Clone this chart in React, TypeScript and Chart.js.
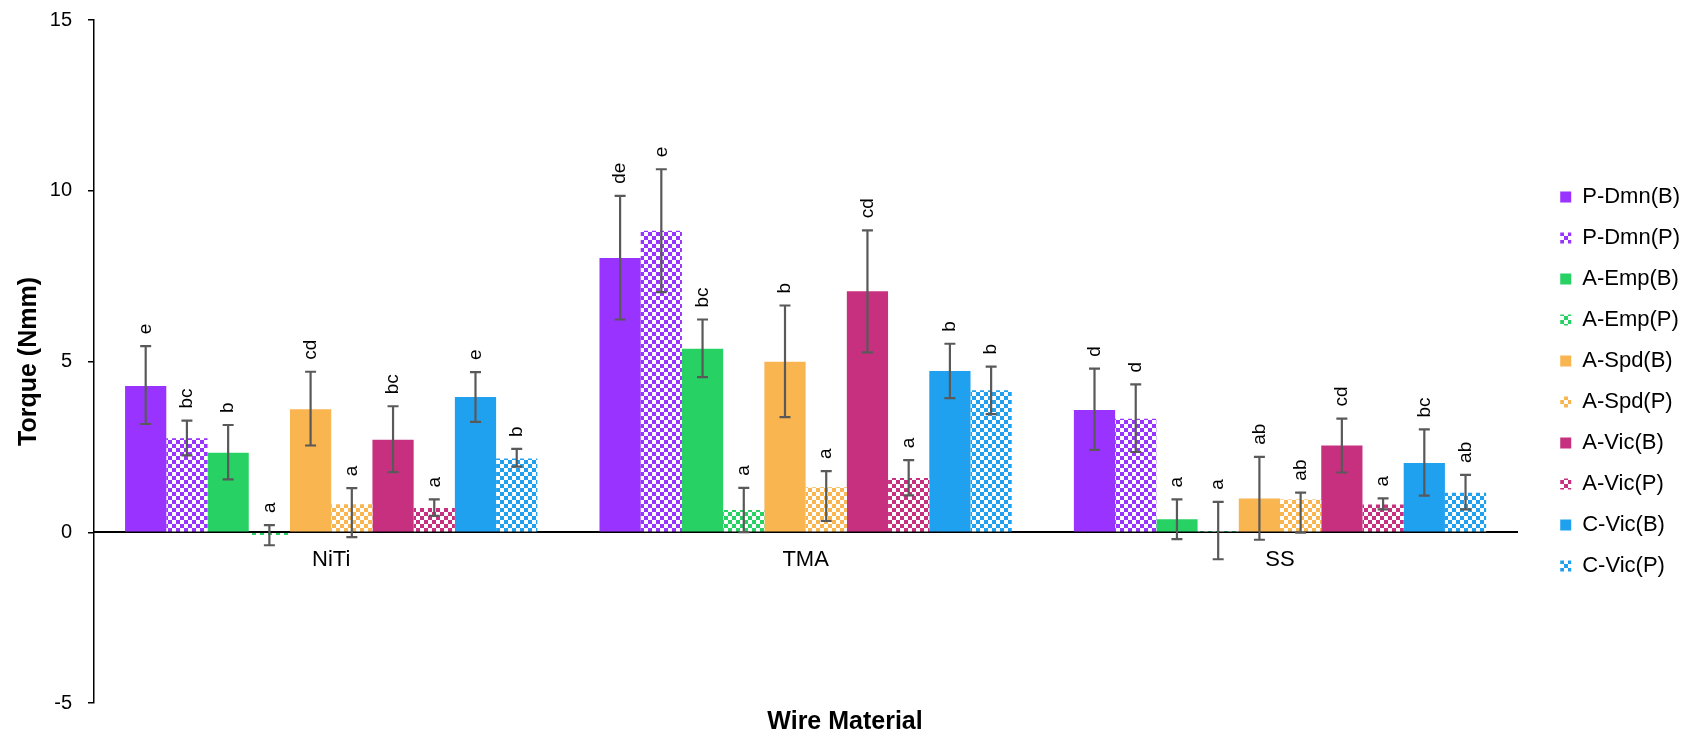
import React, { useEffect, useRef } from "react";
import { Chart, registerables } from "chart.js";

Chart.register(...registerables);

const FONT = "'Liberation Sans', Arial, Helvetica, sans-serif";
Chart.defaults.font.family = FONT;

// Wire materials on the category axis
const categories = ["NiTi", "TMA", "SS"];

// Series names (B = bracket, P = passive)
const seriesNames = [
  "P-Dmn(B)",
  "P-Dmn(P)",
  "A-Emp(B)",
  "A-Emp(P)",
  "A-Spd(B)",
  "A-Spd(P)",
  "A-Vic(B)",
  "A-Vic(P)",
  "C-Vic(B)",
  "C-Vic(P)",
];

// Mean torque (Nmm) per wire material: NiTi, TMA, SS
const pDmnB = [4.28, 8.03, 3.58];
const pDmnP = [2.75, 8.83, 3.32];
const aEmpB = [2.33, 5.37, 0.38];
const aEmpP = [-0.08, 0.65, 0.04];
const aSpdB = [3.6, 4.99, 0.99];
const aSpdP = [0.82, 1.32, 0.96];
const aVicB = [2.71, 7.06, 2.54];
const aVicP = [0.71, 1.59, 0.81];
const cVicB = [3.96, 4.72, 2.03];
const cVicP = [2.16, 4.16, 1.16];

// Lower whisker ends
const pDmnBLow = [3.17, 6.23, 2.41];
const pDmnPLow = [2.25, 7.03, 2.35];
const aEmpBLow = [1.55, 4.54, -0.2];
const aEmpPLow = [-0.38, 0.0, -0.79];
const aSpdBLow = [2.54, 3.37, -0.22];
const aSpdPLow = [-0.14, 0.33, -0.01];
const aVicBLow = [1.76, 5.27, 1.75];
const aVicPLow = [0.48, 1.08, 0.67];
const cVicBLow = [3.23, 3.93, 1.07];
const cVicPLow = [1.92, 3.46, 0.67];

// Upper whisker ends
const pDmnBHigh = [5.45, 9.85, 4.79];
const pDmnPHigh = [3.27, 10.63, 4.33];
const aEmpBHigh = [3.14, 6.23, 0.96];
const aEmpPHigh = [0.21, 1.3, 0.89];
const aSpdBHigh = [4.7, 6.64, 2.21];
const aSpdPHigh = [1.29, 1.79, 1.16];
const aVicBHigh = [3.69, 8.84, 3.33];
const aVicPHigh = [0.96, 2.11, 0.99];
const cVicBHigh = [4.69, 5.52, 3.01];
const cVicPHigh = [2.44, 4.85, 1.68];

// Significance letters
const pDmnBSig = ["e", "de", "d"];
const pDmnPSig = ["bc", "e", "d"];
const aEmpBSig = ["b", "bc", "a"];
const aEmpPSig = ["a", "a", "a"];
const aSpdBSig = ["cd", "b", "ab"];
const aSpdPSig = ["a", "a", "ab"];
const aVicBSig = ["bc", "cd", "cd"];
const aVicPSig = ["a", "a", "a"];
const cVicBSig = ["e", "b", "bc"];
const cVicPSig = ["b", "b", "ab"];

// Y axis range
const yMin = -5;
const yMax = 15;
const yStep = 5;

const means = [pDmnB, pDmnP, aEmpB, aEmpP, aSpdB, aSpdP, aVicB, aVicP, cVicB, cVicP];
const lows = [pDmnBLow, pDmnPLow, aEmpBLow, aEmpPLow, aSpdBLow, aSpdPLow, aVicBLow, aVicPLow, cVicBLow, cVicPLow];
const highs = [pDmnBHigh, pDmnPHigh, aEmpBHigh, aEmpPHigh, aSpdBHigh, aSpdPHigh, aVicBHigh, aVicPHigh, cVicBHigh, cVicPHigh];
const letters = [pDmnBSig, pDmnPSig, aEmpBSig, aEmpPSig, aSpdBSig, aSpdPSig, aVicBSig, aVicPSig, cVicBSig, cVicPSig];

// Brand colours, one per appliance (each used for a solid and a checkered series)
const brandColors = ["#9933FF", "#27D163", "#F9B550", "#C7307F", "#1FA1F0"];

function checker(color: string): CanvasPattern | string {
  const tile = document.createElement("canvas");
  tile.width = 8;
  tile.height = 8;
  const c = tile.getContext("2d");
  if (!c) return color;
  c.fillStyle = "#ffffff";
  c.fillRect(0, 0, 8, 8);
  c.fillStyle = color;
  c.fillRect(0, 0, 4, 4);
  c.fillRect(4, 4, 4, 4);
  const p = c.createPattern(tile, "repeat");
  return p || color;
}

// Draws whiskers and the rotated significance letters above them
const whiskerPlugin = {
  id: "whiskersAndLetters",
  afterDatasetsDraw(chart: any) {
    const { ctx } = chart;
    const yScale = chart.scales.y;
    chart.data.datasets.forEach((ds: any, di: number) => {
      const meta = chart.getDatasetMeta(di);
      if (meta.hidden) return;
      meta.data.forEach((bar: any, i: number) => {
        const x = bar.x;
        const yLo = yScale.getPixelForValue(ds.whiskerLow[i]);
        const yHi = yScale.getPixelForValue(ds.whiskerHigh[i]);
        const cap = 5.5;
        ctx.save();
        ctx.strokeStyle = "#595959";
        ctx.lineWidth = 2.2;
        ctx.beginPath();
        ctx.moveTo(x, yLo);
        ctx.lineTo(x, yHi);
        ctx.moveTo(x - cap, yLo);
        ctx.lineTo(x + cap, yLo);
        ctx.moveTo(x - cap, yHi);
        ctx.lineTo(x + cap, yHi);
        ctx.stroke();
        ctx.translate(x, yHi - 12);
        ctx.rotate(-Math.PI / 2);
        ctx.font = `19px ${FONT}`;
        ctx.fillStyle = "#000000";
        ctx.textAlign = "left";
        ctx.textBaseline = "middle";
        ctx.fillText(ds.sig[i], 0, 0);
        ctx.restore();
      });
    });
  },
};

export default function App() {
  const canvasRef = useRef<HTMLCanvasElement | null>(null);

  useEffect(() => {
    const canvas = canvasRef.current;
    if (!canvas) return;

    const datasets = seriesNames.map((name, i) => {
      const color = brandColors[Math.floor(i / 2)];
      const fill = i % 2 === 0 ? color : checker(color);
      return {
        label: name,
        data: means[i],
        backgroundColor: fill,
        borderWidth: 0,
        whiskerLow: lows[i],
        whiskerHigh: highs[i],
        sig: letters[i],
      } as any;
    });

    const chart = new Chart(canvas, {
      type: "bar",
      data: { labels: categories, datasets },
      plugins: [whiskerPlugin],
      options: {
        animation: false,
        responsive: true,
        maintainAspectRatio: false,
        layout: { padding: { top: 20, left: 0, right: 0, bottom: 0 } },
        datasets: {
          bar: { categoryPercentage: 0.869, barPercentage: 1 },
        },
        plugins: {
          tooltip: { enabled: false },
          legend: {
            position: "right",
            title: { display: true, text: "", padding: 0, font: { size: 5 } },
            labels: {
              boxWidth: 11,
              boxHeight: 11,
              padding: 19,
              color: "#000000",
              font: { size: 22, family: FONT },
            },
          },
          title: {
            display: true,
            position: "bottom",
            text: "Wire Material",
            color: "#000000",
            font: { size: 25, weight: "bold", family: FONT },
            padding: { top: 4, bottom: 0 },
          },
        },
        scales: {
          x: {
            type: "category",
            position: { y: 0 } as any,
            grid: { display: true, drawOnChartArea: false, drawTicks: false },
            border: { display: true, color: "#000000", width: 2 },
            ticks: { color: "#000000", font: { size: 22, family: FONT }, padding: 14 },
          },
          y: {
            type: "linear",
            position: "left",
            min: yMin,
            max: yMax,
            ticks: { stepSize: yStep, color: "#000000", font: { size: 20, family: FONT }, padding: 16 },
            grid: { drawOnChartArea: false, drawTicks: true, tickLength: 6, color: "#000000", lineWidth: 1.5 },
            border: { display: true, color: "#000000", width: 1.5 },
            title: {
              display: true,
              text: "Torque (Nmm)",
              color: "#000000",
              font: { size: 25, weight: "bold", family: FONT },
              padding: { top: 14, bottom: 0 },
            },
            afterFit: (s: any) => {
              s.width = 94;
              s.paddingTop = 0;
              s.paddingBottom = 0;
            },
          },
          yGap: {
            type: "linear",
            position: "right",
            display: true,
            grid: { display: false },
            border: { display: false },
            ticks: { display: false },
            afterFit: (s: any) => {
              s.width = 24;
            },
          },
        },
      } as any,
    });

    return () => chart.destroy();
  }, []);

  return (
    <div style={{ position: "absolute", left: 0, top: 0, width: "1690px", height: "737px", background: "#ffffff" }}>
      <canvas ref={canvasRef} />
    </div>
  );
}
